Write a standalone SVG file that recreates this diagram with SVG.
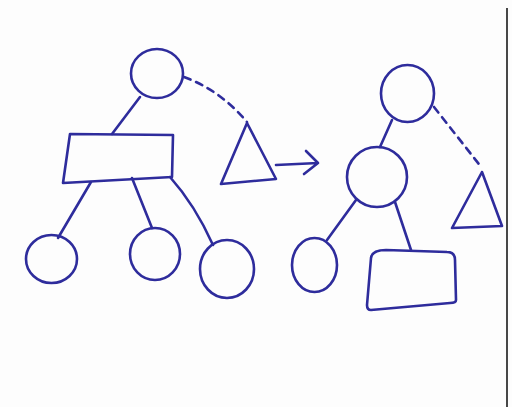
<svg xmlns="http://www.w3.org/2000/svg" width="512" height="407" viewBox="0 0 512 407">
<style>
.s{fill:none;stroke:#2e2c9c;stroke-width:2.6;stroke-linecap:round;stroke-linejoin:round}
.d{fill:none;stroke:#2e2c9c;stroke-width:2.6;stroke-linecap:round;stroke-dasharray:7 6}
</style>
<rect width="512" height="407" fill="#fdfdfd"/>
<line x1="507" y1="8" x2="507" y2="407" stroke="#1a1a1a" stroke-width="1.6"/>
<g id="connectors">
<path class="s" d="M140 97 L112 134"/>
<path class="s" d="M91 182 L58 238"/>
<path class="s" d="M132 178 L152 228"/>
<path class="s" d="M170 177 Q195 205 213 245"/>
<path class="d" d="M184 77 Q220 90 247 122"/>
<path class="s" d="M276 165 L318 163 M306 151 L318 163 L304 174"/>
<path class="s" d="M392 120 L380 147"/>
<path class="s" d="M356 200 L327 240"/>
<path class="s" d="M395 202 L411 250"/>
<path class="d" d="M434 107 L482 168"/>
</g>
<g id="L-root"><ellipse class="s" cx="157" cy="73.5" rx="26" ry="24.5"/></g>
<g id="L-rect"><path class="s" d="M70 134 L173 135 L172 177 L63 183 Z"/></g>
<g id="L-tri"><path class="s" d="M247 123 L221 184 L276 179 Z"/></g>
<g id="L-c1"><ellipse class="s" cx="51.5" cy="259" rx="25.5" ry="24"/></g>
<g id="L-c2"><ellipse class="s" cx="155" cy="254" rx="25" ry="26"/></g>
<g id="L-c3"><ellipse class="s" cx="227" cy="269" rx="27" ry="29"/></g>
<g id="R-root"><ellipse class="s" cx="407.5" cy="93.5" rx="26.5" ry="28.5"/></g>
<g id="R-mid"><ellipse class="s" cx="377" cy="177" rx="30" ry="30"/></g>
<g id="R-tri"><path class="s" d="M482 172 L452 228 L502 226 Z"/></g>
<g id="R-c1"><ellipse class="s" cx="314.5" cy="265" rx="22.5" ry="27"/></g>
<g id="R-box"><path class="s" d="M386 250 L447 252 Q455 252 455 260 L456 300 Q456 303 450 303 L371 310 Q367 310 367 305 L371 258 Q372 250 386 250 Z"/></g>
</svg>
